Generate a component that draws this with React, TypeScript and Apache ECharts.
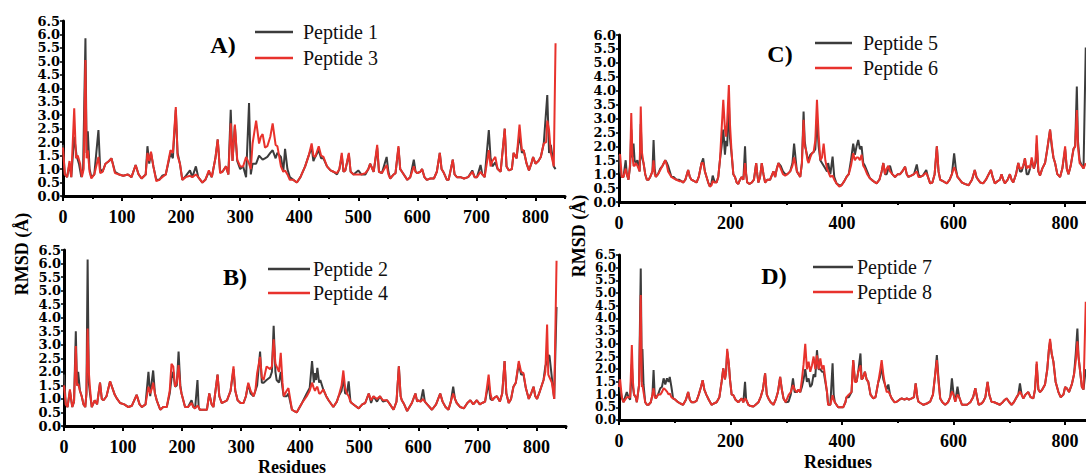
import React, { useEffect, useRef } from "react";
import * as echarts from "echarts";

type P = [number, number];

const xLabelsLeft = [0, 100, 200, 300, 400, 500, 600, 700, 800];
const xMinorLeft = [50, 150, 250, 350, 450, 550, 650, 750, 850];
const xLabelsRight = [0, 200, 400, 600, 800];
const xMinorRight = [100, 300, 500, 700];

const panelTitles = ["A)", "B)", "C)", "D)"];
const legendNames = [
  ["Peptide 1", "Peptide 3"],
  ["Peptide 2", "Peptide 4"],
  ["Peptide 5", "Peptide 6"],
  ["Peptide 7", "Peptide 8"],
];
const yMaxes = [6.5, 6.5, 6.0, 6.5];

// Panel A
const pep1: P[] = [[0,1.9],[3,0.8],[7,0.7],[11,1.2],[14,0.7],[19,2.2],[23,1.5],[27,1.2],[31,0.7],[34,1.0],[38,5.86],[40,1.6],[42,2.4],[45,1.0],[48,0.7],[53,0.8],[60,2.45],[63,1.0],[67,0.9],[72,1.2],[78,1.3],[82,1.4],[88,0.9],[95,0.8],[102,0.75],[110,0.8],[116,0.7],[123,1.15],[128,0.8],[133,0.65],[140,0.8],[143,1.85],[146,1.2],[149,1.6],[153,1.1],[158,0.6],[163,0.6],[168,0.75],[174,0.8],[182,1.6],[186,1.4],[191,3.2],[194,1.6],[198,1.2],[202,0.6],[208,0.75],[215,0.95],[219,0.7],[225,1.1],[229,0.7],[236,0.5],[241,0.6],[247,0.9],[252,0.7],[258,1.4],[262,2.1],[266,0.9],[270,0.9],[276,1.1],[280,0.8],[284,3.2],[287,1.3],[291,2.6],[295,1.3],[300,1.0],[305,1.1],[310,0.7],[315,3.45],[318,0.8],[321,1.2],[327,1.2],[332,1.5],[338,1.35],[342,1.4],[346,1.45],[351,1.6],[355,1.7],[360,1.4],[363,1.6],[369,1.45],[373,0.9],[376,1.75],[380,1.0],[384,0.7],[390,0.6],[396,0.5],[402,0.7],[410,1.1],[416,1.5],[421,1.8],[424,1.3],[427,1.45],[433,1.7],[437,1.4],[441,1.4],[447,1.1],[453,0.95],[458,0.9],[464,0.8],[468,1.0],[472,1.5],[475,0.9],[478,0.95],[484,1.55],[487,0.9],[492,0.8],[500,0.95],[505,0.8],[512,0.8],[517,1.0],[520,1.2],[526,0.9],[532,1.8],[535,0.9],[540,0.85],[548,1.45],[551,0.9],[554,0.65],[560,0.8],[563,0.85],[568,1.8],[571,1.0],[574,0.9],[583,0.6],[588,0.7],[594,1.35],[597,0.9],[600,0.85],[605,0.9],[608,1.0],[612,0.7],[616,0.6],[622,0.65],[628,0.65],[633,0.9],[638,1.6],[641,1.0],[645,0.85],[650,0.6],[653,0.6],[660,1.35],[663,0.8],[667,0.7],[673,0.7],[679,0.65],[686,0.7],[693,0.95],[697,0.7],[701,0.7],[707,1.15],[710,0.8],[714,0.7],[721,2.45],[724,1.4],[727,1.1],[732,1.25],[736,1.0],[741,0.9],[748,2.5],[751,1.1],[755,0.95],[760,1.0],[763,1.6],[768,1.4],[773,2.3],[777,1.6],[780,1.7],[785,1.2],[789,0.95],[793,1.2],[796,1.45],[800,1.2],[805,1.3],[809,1.45],[814,1.95],[820,3.75],[823,1.6],[826,1.9],[831,1.1],[834,1.0]];
const pep3: P[] = [[0,1.8],[3,0.8],[7,0.7],[11,1.3],[14,0.7],[19,3.26],[22,1.4],[25,1.5],[29,1.2],[32,0.7],[35,1.0],[38,5.05],[40,1.4],[42,1.7],[45,0.9],[48,0.65],[53,0.8],[60,1.45],[63,0.85],[67,0.9],[72,1.2],[78,1.3],[82,1.4],[88,0.85],[95,0.8],[102,0.75],[110,0.8],[116,0.7],[123,1.15],[128,0.8],[133,0.65],[140,0.8],[143,1.6],[146,1.3],[149,1.65],[153,1.1],[158,0.55],[163,0.6],[168,0.7],[174,0.8],[182,1.7],[186,1.6],[191,3.3],[194,1.5],[198,1.2],[202,0.6],[208,0.7],[215,0.75],[219,0.7],[225,0.8],[229,0.7],[236,0.5],[241,0.6],[247,0.95],[252,0.7],[258,1.4],[262,2.1],[266,0.85],[270,0.9],[276,1.1],[280,0.8],[284,2.7],[287,1.3],[291,2.65],[295,1.35],[300,1.1],[305,1.1],[310,1.45],[315,1.2],[318,1.0],[321,1.95],[327,2.8],[332,1.95],[335,2.2],[338,2.3],[342,1.8],[346,1.85],[351,2.2],[355,2.7],[360,1.9],[363,1.85],[369,1.1],[373,0.9],[376,0.95],[380,0.8],[384,0.6],[390,0.6],[396,0.5],[402,0.7],[410,1.1],[416,1.5],[421,1.95],[424,1.5],[427,1.45],[433,1.85],[437,1.5],[441,1.45],[447,1.1],[453,0.95],[458,0.9],[464,0.85],[468,1.0],[472,1.6],[475,0.9],[478,0.95],[484,1.6],[487,0.9],[492,0.8],[500,0.8],[505,0.8],[512,0.85],[517,1.0],[520,1.2],[526,0.9],[532,1.9],[535,0.9],[540,0.85],[548,1.15],[551,0.8],[554,0.65],[560,0.8],[563,0.85],[568,1.85],[571,1.0],[574,0.9],[583,0.6],[588,0.7],[594,1.1],[597,0.9],[600,0.85],[605,0.9],[608,1.0],[612,0.7],[616,0.6],[622,0.65],[628,0.65],[633,0.9],[638,1.6],[641,1.0],[645,0.85],[650,0.6],[653,0.6],[660,1.35],[663,0.8],[667,0.7],[673,0.7],[679,0.65],[686,0.7],[693,0.9],[697,0.7],[701,0.7],[707,0.9],[710,0.8],[714,0.7],[721,1.7],[724,1.1],[727,1.3],[732,1.45],[736,1.0],[741,0.9],[748,2.5],[751,1.1],[755,0.95],[760,1.0],[763,1.6],[768,1.4],[773,2.65],[777,1.7],[780,1.7],[785,1.2],[789,0.95],[793,1.2],[796,1.45],[800,1.2],[805,1.3],[809,1.45],[814,1.95],[818,2.0],[820,2.8],[823,2.45],[826,1.6],[831,1.1],[834,5.67]];

// Panel B
const pep2: P[] = [[0,1.9],[3,0.8],[6,0.7],[10,1.3],[14,0.7],[17,0.9],[20,3.5],[22,1.5],[24,2.0],[27,1.3],[30,1.1],[33,0.8],[36,0.7],[38,1.2],[40,6.15],[42,1.6],[44,1.2],[47,0.7],[52,0.95],[56,0.8],[61,1.6],[64,1.0],[67,0.95],[72,1.1],[78,1.65],[82,1.4],[86,1.15],[90,1.0],[95,0.85],[102,0.8],[109,0.7],[115,0.75],[123,1.15],[128,0.8],[132,0.7],[138,0.8],[143,2.0],[146,1.1],[149,1.7],[151,2.05],[154,1.2],[157,0.95],[163,0.6],[168,0.7],[174,0.7],[179,1.2],[182,1.75],[185,2.0],[188,1.45],[191,1.5],[194,2.75],[197,1.5],[199,1.2],[205,0.7],[210,0.7],[216,0.95],[219,0.7],[222,0.65],[226,1.7],[228,0.7],[230,0.6],[236,0.6],[242,0.6],[246,1.2],[250,0.8],[253,0.7],[260,1.9],[263,1.1],[267,0.85],[272,0.9],[276,0.95],[282,1.3],[287,2.1],[290,1.3],[294,0.95],[299,0.85],[304,0.85],[308,1.1],[312,1.55],[316,1.2],[321,1.1],[324,1.3],[327,1.5],[332,2.75],[335,1.6],[338,1.6],[343,1.7],[349,1.8],[352,2.0],[355,3.7],[358,2.0],[360,1.7],[364,1.6],[367,2.0],[370,1.4],[372,1.1],[377,1.1],[380,1.2],[386,0.6],[390,0.55],[394,0.5],[403,0.85],[411,1.2],[416,1.4],[420,2.4],[423,1.6],[425,1.95],[427,1.7],[429,2.15],[432,1.6],[434,1.7],[439,1.35],[444,1.1],[448,0.95],[456,0.7],[462,0.9],[465,1.1],[470,1.3],[473,1.8],[476,1.2],[479,1.2],[482,1.65],[485,0.9],[487,0.85],[493,0.75],[499,0.65],[505,0.8],[510,0.85],[516,1.2],[520,0.85],[524,1.1],[530,0.9],[535,1.1],[540,0.9],[547,0.95],[552,0.8],[558,0.6],[563,0.9],[567,2.2],[570,1.1],[572,0.95],[576,0.8],[581,0.55],[585,0.7],[589,0.85],[595,1.2],[598,0.9],[600,0.95],[604,0.9],[608,1.35],[611,0.9],[615,0.8],[623,0.6],[630,0.8],[637,1.2],[641,0.9],[646,0.7],[651,0.6],[655,0.9],[659,1.45],[662,1.0],[665,0.85],[671,0.7],[677,0.65],[683,0.85],[688,0.95],[693,0.8],[699,0.95],[704,0.8],[708,0.85],[713,0.9],[719,1.6],[722,1.0],[725,0.95],[729,1.05],[733,1.1],[738,0.9],[742,1.2],[746,2.4],[749,1.2],[753,0.85],[757,1.0],[761,1.45],[765,1.6],[770,2.3],[774,1.9],[778,1.9],[782,1.4],[787,1.0],[791,1.2],[795,1.45],[798,1.1],[801,1.0],[806,1.3],[812,1.7],[815,2.2],[818,2.4],[820,2.6],[822,2.6],[826,1.8],[830,1.0],[834,4.4]];
const pep4: P[] = [[0,1.5],[3,0.8],[6,0.7],[10,1.35],[14,0.7],[17,0.9],[20,2.95],[22,1.5],[24,1.55],[27,1.3],[30,1.1],[33,0.8],[36,0.7],[38,1.2],[40,3.6],[42,2.0],[44,1.4],[47,0.7],[52,0.95],[56,0.8],[61,1.6],[64,1.0],[67,0.95],[72,1.1],[78,1.65],[82,1.4],[86,1.15],[90,1.0],[95,0.85],[102,0.8],[109,0.7],[115,0.75],[123,1.15],[128,0.8],[132,0.7],[138,0.8],[143,1.45],[146,1.2],[149,1.4],[151,1.6],[154,1.2],[157,0.95],[163,0.6],[168,0.7],[174,0.7],[179,1.3],[182,2.3],[185,2.2],[188,1.45],[191,1.6],[194,2.25],[197,1.4],[199,1.2],[205,0.7],[210,0.7],[216,0.85],[219,0.7],[222,0.65],[226,0.75],[228,0.7],[230,0.6],[236,0.6],[242,0.6],[246,1.2],[250,0.8],[253,0.7],[260,1.9],[263,1.1],[267,0.85],[272,0.9],[276,0.95],[282,1.3],[287,2.2],[290,1.3],[294,0.95],[299,0.85],[304,0.85],[308,1.1],[312,1.6],[316,1.3],[321,1.1],[324,1.3],[327,1.95],[332,2.55],[335,1.8],[338,1.7],[343,2.2],[349,2.1],[352,2.2],[355,3.2],[358,2.3],[360,2.2],[364,2.0],[367,2.7],[370,1.6],[372,1.1],[377,1.3],[380,1.4],[386,0.6],[390,0.55],[394,0.5],[403,0.85],[411,1.1],[416,1.3],[420,1.6],[423,1.4],[425,1.3],[427,1.4],[429,1.45],[432,1.2],[434,1.2],[439,1.35],[444,1.1],[448,0.95],[456,0.7],[462,0.9],[465,1.1],[470,1.5],[473,2.05],[476,1.4],[479,1.2],[482,1.1],[485,0.9],[487,0.85],[493,0.75],[499,0.65],[505,0.8],[510,0.85],[516,1.2],[520,0.95],[524,1.1],[530,1.0],[535,1.1],[540,0.95],[547,0.95],[552,0.8],[558,0.6],[563,0.9],[567,2.2],[570,1.1],[572,0.95],[576,0.8],[581,0.55],[585,0.7],[589,0.85],[595,1.2],[598,0.9],[600,0.95],[604,0.9],[608,1.0],[611,0.9],[615,0.8],[623,0.6],[630,0.8],[637,1.2],[641,0.9],[646,0.7],[651,0.6],[655,0.9],[659,1.2],[662,1.0],[665,0.85],[671,0.7],[677,0.65],[683,0.85],[688,0.95],[693,0.8],[699,0.95],[704,0.8],[708,0.85],[713,0.9],[719,1.9],[722,1.2],[725,0.95],[729,1.05],[733,1.1],[738,0.9],[742,1.2],[746,2.4],[749,1.2],[753,0.85],[757,1.0],[761,1.45],[765,1.6],[770,2.4],[774,2.0],[778,1.95],[782,1.4],[787,1.0],[791,1.2],[795,1.45],[798,1.1],[801,1.0],[806,1.3],[812,1.7],[815,2.0],[818,3.75],[820,1.9],[822,1.8],[826,1.6],[830,1.0],[834,6.1]];

// Panel C
const pep5: P[] = [[0,1.7],[2,1.1],[5,0.9],[8,0.9],[12,1.5],[14,1.0],[17,0.8],[20,1.3],[22,2.6],[24,1.6],[26,2.1],[28,1.5],[30,1.4],[33,1.5],[35,1.3],[37,1.1],[39,2.8],[41,1.6],[44,1.4],[47,1.0],[50,0.8],[53,0.8],[56,0.9],[60,1.1],[62,2.23],[64,1.2],[66,0.9],[70,1.0],[74,1.2],[78,1.3],[83,1.5],[86,1.4],[88,1.3],[91,1.1],[94,0.9],[98,0.9],[103,0.8],[108,0.8],[112,0.75],[115,0.7],[119,0.8],[124,1.15],[127,0.9],[130,0.8],[135,0.75],[139,0.7],[143,0.9],[148,1.4],[151,1.57],[154,1.1],[157,0.9],[160,0.7],[163,0.55],[166,0.7],[168,0.95],[171,0.75],[175,0.7],[178,0.9],[181,1.5],[184,2.0],[187,2.6],[190,1.7],[192,2.2],[194,2.0],[197,3.6],[199,2.3],[202,1.7],[205,1.0],[208,0.9],[211,0.7],[214,0.65],[217,0.8],[220,0.9],[223,0.8],[226,2.0],[228,1.0],[230,0.7],[234,0.65],[238,0.7],[242,0.8],[246,1.4],[248,1.0],[250,0.7],[253,0.9],[256,1.4],[259,1.0],[262,0.7],[266,0.8],[271,0.8],[275,1.0],[277,1.1],[280,0.9],[283,1.2],[286,1.4],[290,1.3],[294,1.1],[298,1.0],[302,1.0],[307,1.1],[311,1.4],[314,2.1],[317,1.5],[319,1.1],[322,1.0],[325,0.9],[328,1.4],[331,3.25],[333,2.2],[335,1.9],[338,1.6],[340,1.5],[343,1.7],[346,1.75],[349,1.8],[352,1.9],[355,3.0],[358,2.0],[361,1.5],[364,1.4],[367,1.3],[370,1.2],[373,1.1],[375,1.4],[379,1.0],[383,1.63],[386,0.9],[390,0.67],[395,0.6],[399,0.6],[404,0.75],[408,0.9],[412,1.0],[416,1.5],[420,2.1],[423,1.7],[426,2.0],[429,2.23],[432,1.9],[435,2.0],[438,1.4],[441,1.3],[445,1.1],[450,0.85],[456,0.75],[462,0.67],[467,0.8],[471,1.1],[474,1.4],[477,1.0],[480,1.0],[483,1.2],[486,1.3],[490,1.0],[495,0.9],[500,1.0],[504,1.0],[508,1.1],[513,1.27],[516,1.0],[519,0.9],[524,0.95],[529,1.0],[534,1.35],[537,1.0],[540,0.9],[545,0.95],[551,1.15],[554,0.9],[558,0.67],[562,0.7],[566,1.0],[570,2.0],[573,1.1],[576,0.8],[581,0.75],[585,0.7],[588,0.67],[593,0.8],[597,1.0],[601,1.75],[604,1.2],[607,0.9],[611,0.8],[615,0.7],[620,0.65],[627,0.6],[633,0.8],[638,1.15],[641,0.9],[644,0.8],[648,0.7],[653,0.67],[658,0.8],[663,1.0],[667,1.15],[670,0.9],[674,0.67],[679,0.75],[683,0.8],[686,1.0],[689,0.8],[692,0.67],[697,0.8],[701,1.0],[704,0.8],[707,0.7],[712,1.0],[716,1.4],[719,1.1],[722,1.1],[725,1.3],[728,1.57],[731,1.0],[734,1.0],[737,1.2],[740,1.5],[744,1.2],[747,1.4],[749,2.1],[752,1.1],[755,0.95],[759,1.2],[764,1.4],[768,1.9],[773,2.6],[776,2.0],[779,1.6],[782,1.4],[786,1.0],[791,0.9],[795,1.2],[800,1.9],[803,1.2],[806,1.0],[810,1.3],[815,1.9],[818,2.0],[821,4.15],[823,2.2],[826,1.5],[830,1.3],[833,1.2],[837,5.55]];
const pep6: P[] = [[0,1.7],[2,1.7],[5,0.9],[8,0.9],[12,1.2],[14,1.0],[17,0.8],[20,1.4],[22,3.2],[24,1.7],[26,1.3],[28,1.3],[30,1.4],[33,1.3],[35,1.2],[37,1.1],[39,3.43],[41,1.8],[44,1.4],[47,1.0],[50,0.8],[53,0.8],[56,0.9],[60,1.1],[62,1.5],[64,1.0],[66,0.9],[70,1.0],[74,1.15],[78,1.3],[83,1.5],[86,1.3],[88,1.1],[91,1.0],[94,0.9],[98,0.85],[103,0.8],[108,0.75],[112,0.75],[115,0.7],[119,0.8],[124,1.15],[127,0.9],[130,0.8],[135,0.75],[139,0.7],[143,0.9],[148,1.4],[151,1.4],[154,1.1],[157,0.9],[160,0.7],[163,0.55],[166,0.6],[168,0.75],[171,0.7],[175,0.7],[178,0.9],[181,1.5],[184,2.6],[187,3.67],[190,2.6],[192,2.35],[194,2.9],[197,4.2],[199,2.8],[202,1.75],[205,1.0],[208,0.9],[211,0.7],[214,0.65],[217,0.8],[220,0.9],[223,0.8],[226,1.4],[228,1.0],[230,0.7],[234,0.65],[238,0.7],[242,0.8],[246,1.4],[248,1.0],[250,0.7],[253,0.9],[256,1.4],[259,1.0],[262,0.7],[266,0.8],[271,0.8],[275,1.0],[277,1.1],[280,0.9],[283,1.2],[286,1.4],[290,1.2],[294,1.0],[298,0.95],[302,1.0],[307,1.1],[311,1.3],[314,1.6],[317,1.3],[319,1.1],[322,1.0],[325,0.9],[328,1.4],[331,2.95],[333,2.0],[335,1.9],[338,1.5],[340,1.4],[343,1.6],[346,1.75],[349,1.8],[352,2.2],[355,3.67],[358,2.4],[361,1.5],[364,1.6],[367,2.1],[370,1.5],[373,1.2],[375,1.1],[379,0.9],[383,0.95],[386,0.8],[390,0.67],[395,0.55],[399,0.6],[404,0.75],[408,0.9],[412,1.0],[416,1.3],[420,1.75],[423,1.5],[426,1.6],[429,1.6],[432,1.5],[435,1.7],[438,1.3],[441,1.2],[445,1.0],[450,0.85],[456,0.75],[462,0.67],[467,0.8],[471,1.1],[474,1.4],[477,1.0],[480,1.2],[483,1.3],[486,1.1],[490,1.0],[495,0.9],[500,1.0],[504,1.0],[508,1.1],[513,1.27],[516,1.0],[519,0.9],[524,0.95],[529,1.0],[534,1.1],[537,0.9],[540,0.9],[545,0.95],[551,1.05],[554,0.9],[558,0.67],[562,0.7],[566,1.0],[570,2.0],[573,1.1],[576,0.8],[581,0.75],[585,0.7],[588,0.67],[593,0.8],[597,1.0],[601,1.25],[604,1.1],[607,0.9],[611,0.8],[615,0.7],[620,0.65],[627,0.6],[633,0.8],[638,1.15],[641,0.9],[644,0.8],[648,0.7],[653,0.67],[658,0.8],[663,1.0],[667,1.15],[670,0.9],[674,0.67],[679,0.75],[683,0.8],[686,1.0],[689,0.8],[692,0.67],[697,0.8],[701,1.0],[704,0.8],[707,0.7],[712,1.0],[716,1.4],[719,1.2],[722,1.2],[725,1.3],[728,1.57],[731,1.2],[734,1.3],[737,1.2],[740,1.6],[744,1.2],[747,1.5],[749,2.4],[752,1.1],[755,0.95],[759,1.2],[764,1.4],[768,1.9],[773,2.6],[776,2.1],[779,1.6],[782,1.4],[786,1.0],[791,0.9],[795,1.2],[800,2.0],[803,1.2],[806,1.0],[810,1.3],[815,1.9],[818,2.0],[821,3.3],[823,2.0],[826,1.4],[830,1.3],[833,1.2],[837,1.4]];

// Panel D
const pep7: P[] = [[0,1.6],[2,1.25],[5,0.9],[8,0.7],[11,0.9],[14,1.1],[17,0.9],[20,0.8],[23,2.2],[25,1.3],[27,1.0],[30,0.9],[32,0.7],[36,1.38],[39,5.97],[41,1.5],[42,2.8],[44,1.4],[47,0.7],[50,0.6],[53,0.6],[57,0.7],[60,1.0],[62,1.97],[64,1.0],[66,0.85],[70,1.0],[74,1.25],[77,1.3],[80,1.64],[83,1.4],[86,1.64],[89,1.5],[91,1.7],[94,1.3],[97,0.85],[101,0.8],[106,0.7],[110,0.65],[115,0.6],[120,0.8],[124,1.1],[127,0.8],[130,0.7],[135,0.7],[139,0.75],[143,1.0],[147,1.3],[150,1.57],[153,1.2],[157,0.98],[161,0.8],[166,0.6],[170,0.65],[175,0.7],[180,0.9],[184,1.5],[187,2.03],[190,1.6],[192,1.9],[194,2.7],[197,2.2],[199,1.6],[202,1.0],[205,0.98],[209,0.8],[214,0.7],[218,0.8],[220,0.85],[223,0.7],[226,1.5],[228,0.8],[232,0.6],[236,0.55],[241,0.53],[245,0.6],[250,0.7],[254,0.9],[258,1.2],[262,1.84],[265,1.0],[268,0.85],[272,0.7],[277,0.6],[281,0.8],[285,1.1],[289,1.7],[292,1.2],[295,0.85],[299,0.7],[304,0.72],[308,1.0],[312,1.64],[315,1.1],[319,1.1],[322,1.2],[325,1.1],[328,1.3],[331,1.6],[334,2.0],[337,1.5],[340,1.64],[343,1.3],[346,1.4],[349,1.8],[352,1.7],[355,2.75],[358,2.0],[361,2.0],[364,1.9],[367,1.9],[370,1.5],[373,1.1],[375,0.6],[379,0.6],[383,2.23],[385,1.0],[387,0.7],[393,0.5],[398,0.5],[402,0.5],[406,0.7],[408,0.9],[412,0.9],[417,1.1],[420,2.36],[423,1.6],[426,1.5],[429,1.9],[433,2.62],[435,1.6],[437,1.64],[441,1.9],[444,1.6],[447,1.5],[451,1.0],[456,0.85],[460,0.9],[465,1.5],[468,1.7],[471,2.1],[474,1.6],[477,1.4],[480,1.2],[483,1.4],[486,1.0],[489,0.85],[494,0.7],[498,0.72],[503,0.8],[507,0.85],[512,0.8],[516,0.85],[520,0.8],[525,0.85],[529,0.9],[532,1.44],[535,0.9],[537,0.72],[542,0.65],[546,0.6],[552,0.65],[558,0.72],[563,1.0],[567,1.8],[570,2.56],[573,1.6],[576,0.85],[580,0.7],[585,0.6],[590,0.7],[594,0.9],[597,1.64],[600,1.0],[603,0.72],[607,1.31],[610,0.9],[615,0.6],[620,0.6],[624,0.6],[630,0.7],[635,0.9],[639,1.25],[642,0.9],[645,0.6],[650,0.65],[653,0.72],[657,0.9],[661,1.5],[664,1.0],[668,0.72],[673,0.7],[678,0.65],[683,0.6],[688,0.7],[692,0.8],[695,0.85],[700,0.7],[704,0.6],[708,0.7],[713,0.9],[716,1.0],[719,1.44],[722,1.0],[725,0.85],[729,1.0],[734,1.1],[738,0.9],[743,0.85],[746,1.2],[749,2.2],[752,1.2],[755,1.1],[759,1.2],[764,1.4],[768,2.0],[771,2.8],[773,3.1],[776,2.6],[779,2.3],[783,1.5],[788,1.1],[792,0.9],[797,1.0],[800,1.3],[803,1.25],[807,1.1],[812,1.4],[816,1.8],[819,2.6],[822,3.6],[824,2.5],[827,1.9],[830,1.3],[833,1.2],[837,2.0]];
const pep8: P[] = [[0,1.3],[2,1.6],[5,0.9],[8,0.7],[11,0.8],[14,0.9],[17,0.9],[20,0.9],[23,2.95],[25,1.5],[27,1.0],[30,0.9],[32,0.7],[36,1.38],[39,4.92],[41,1.3],[42,1.38],[44,1.1],[47,0.7],[50,0.6],[53,0.6],[57,0.7],[60,1.0],[62,1.25],[64,0.9],[66,0.85],[70,1.0],[74,1.0],[77,1.1],[80,1.25],[83,1.2],[86,1.12],[89,1.0],[91,1.05],[94,0.9],[97,0.85],[101,0.8],[106,0.7],[110,0.65],[115,0.6],[120,0.8],[124,1.1],[127,0.8],[130,0.7],[135,0.7],[139,0.75],[143,1.0],[147,1.3],[150,1.57],[153,1.2],[157,0.98],[161,0.8],[166,0.6],[170,0.65],[175,0.7],[180,0.9],[184,1.5],[187,2.03],[190,1.6],[192,1.9],[194,2.8],[197,2.2],[199,1.6],[202,1.0],[205,0.98],[209,0.8],[214,0.7],[218,0.8],[220,0.85],[223,0.7],[226,0.85],[228,0.8],[232,0.6],[236,0.55],[241,0.53],[245,0.6],[250,0.7],[254,0.9],[258,1.2],[262,1.84],[265,1.0],[268,0.85],[272,0.7],[277,0.6],[281,0.8],[285,1.1],[289,1.7],[292,1.2],[295,0.85],[299,0.7],[304,0.98],[308,1.1],[312,1.38],[315,1.2],[319,1.1],[322,1.2],[325,1.1],[328,1.6],[331,2.2],[334,3.0],[337,2.0],[340,2.3],[343,1.9],[346,2.15],[349,2.5],[352,2.0],[355,2.55],[358,2.0],[361,2.43],[364,2.0],[367,2.15],[370,1.6],[373,1.1],[375,0.6],[379,0.6],[383,0.98],[385,0.8],[387,0.7],[393,0.5],[398,0.5],[402,0.5],[406,0.7],[408,0.9],[412,1.0],[417,1.1],[420,2.36],[423,1.5],[426,1.5],[429,1.9],[433,2.15],[435,1.6],[437,1.64],[441,1.9],[444,1.6],[447,1.5],[451,1.0],[456,0.85],[460,0.9],[465,1.5],[468,1.9],[471,2.36],[474,1.8],[477,1.38],[480,1.1],[483,1.12],[486,1.0],[489,0.85],[494,0.7],[498,0.72],[503,0.8],[507,0.85],[512,0.8],[516,0.85],[520,0.8],[525,0.85],[529,0.9],[532,1.44],[535,0.9],[537,0.72],[542,0.65],[546,0.6],[552,0.65],[558,0.72],[563,1.0],[567,1.8],[570,2.36],[573,1.5],[576,0.85],[580,0.7],[585,0.6],[590,0.7],[594,0.9],[597,1.12],[600,1.0],[603,0.72],[607,1.0],[610,0.9],[615,0.6],[620,0.6],[624,0.6],[630,0.7],[635,0.9],[639,1.25],[642,0.9],[645,0.6],[650,0.65],[653,0.72],[657,0.9],[661,1.5],[664,1.0],[668,0.72],[673,0.7],[678,0.65],[683,0.6],[688,0.7],[692,0.8],[695,0.85],[700,0.7],[704,0.6],[708,0.7],[713,0.9],[716,1.0],[719,1.12],[722,1.0],[725,0.85],[729,1.0],[734,1.1],[738,0.9],[743,0.85],[746,1.2],[749,2.3],[752,1.2],[755,1.1],[759,1.2],[764,1.4],[768,2.0],[771,2.8],[773,3.2],[776,2.6],[779,2.3],[783,1.5],[788,1.1],[792,0.9],[797,1.0],[800,1.3],[803,1.25],[807,1.1],[812,1.4],[816,1.8],[819,2.3],[822,3.1],[824,2.5],[827,1.9],[830,1.3],[833,1.2],[837,4.66]];

const seriesData: [P[], P[]][] = [[pep1, pep3], [pep2, pep4], [pep5, pep6], [pep7, pep8]];

const DARK = "#3c3c3c";
const RED = "#e8322c";
const SERIF = "'Liberation Serif', 'Times New Roman', serif";
const WIDE_SERIF = "'DejaVu Serif', serif";

// layout (px)
const grids = [
  { left: 63, top: 21, width: 502, height: 175 },
  { left: 64, top: 250, width: 502, height: 176 },
  { left: 619, top: 35, width: 474, height: 167 },
  { left: 619, top: 255, width: 474, height: 165 },
];
const yLabelFontSizes = [13, 13, 13, 12];
const titlePos = [[223, 45], [235, 277], [780, 54], [774, 276]];
const legendPos = [
  { x1: 255, x2: 293, tx: 303, y: [32, 58] },
  { x1: 268, x2: 310, tx: 313, y: [269, 293] },
  { x1: 815, x2: 852, tx: 863, y: [43, 68] },
  { x1: 813, x2: 853, tx: 857, y: [267, 292] },
];

export default function App() {
  const ref = useRef<HTMLDivElement>(null);
  useEffect(() => {
    document.body.style.margin = "0";
    if (!ref.current) return;
    const chart = echarts.init(ref.current, null, { renderer: "svg" });

    const xAxes: any[] = [];
    const yAxes: any[] = [];
    const series: any[] = [];
    const graphic: any[] = [];

    grids.forEach((g, i) => {
      const left = i < 2;
      const labels = left ? xLabelsLeft : xLabelsRight;
      const minor = left ? xMinorLeft : xMinorRight;
      xAxes.push({
        type: "value",
        gridIndex: i,
        position: "bottom",
        min: 0,
        max: 850,
        interval: left ? 50 : 100,
        axisLine: { show: true, lineStyle: { color: "#000", width: 3 } },
        axisTick: { show: true, customValues: labels, length: 5, lineStyle: { color: "#000", width: 2 } },
        axisLabel: {
          customValues: labels,
          margin: 12,
          color: "#000",
          fontFamily: SERIF,
          fontWeight: "bold",
          fontSize: 18,
        },
        splitLine: { show: false },
      });
      xAxes.push({
        type: "value",
        gridIndex: i,
        position: "bottom",
        min: 0,
        max: 850,
        interval: left ? 50 : 100,
        axisLine: { show: false },
        axisTick: { show: true, customValues: minor, length: 3, lineStyle: { color: "#000", width: 2 } },
        axisLabel: { show: false },
        splitLine: { show: false },
      });
      const fs = yLabelFontSizes[i];
      yAxes.push({
        type: "value",
        gridIndex: i,
        min: 0,
        max: yMaxes[i],
        interval: 0.5,
        axisLine: { show: true, lineStyle: { color: "#000", width: 3 } },
        axisTick: { show: true, length: 3, lineStyle: { color: "#000", width: 1.5 } },
        axisLabel: {
          margin: 3,
          color: "#000",
          fontFamily: WIDE_SERIF,
          fontWeight: "bold",
          fontSize: fs,
          lineHeight: fs,
          showMinLabel: true,
          showMaxLabel: true,
          hideOverlap: false,
          formatter: (v: number) => v.toFixed(1),
        },
        splitLine: { show: false },
      });
      const [dark, red] = seriesData[i];
      const names = legendNames[i];
      series.push({
        name: names[0],
        type: "line",
        xAxisIndex: i * 2,
        yAxisIndex: i,
        data: dark,
        showSymbol: false,
        lineStyle: { color: DARK, width: 2 },
        itemStyle: { color: DARK },
      });
      series.push({
        name: names[1],
        type: "line",
        xAxisIndex: i * 2,
        yAxisIndex: i,
        data: red,
        showSymbol: false,
        lineStyle: { color: RED, width: 2 },
        itemStyle: { color: RED },
      });

      graphic.push({
        type: "text",
        x: titlePos[i][0],
        y: titlePos[i][1],
        style: {
          text: panelTitles[i],
          fill: "#000",
          font: `bold 24px ${SERIF}`,
          textAlign: "center",
          textVerticalAlign: "middle",
        },
      });
      const lp = legendPos[i];
      [DARK, RED].forEach((c, k) => {
        graphic.push({
          type: "line",
          shape: { x1: lp.x1, y1: lp.y[k], x2: lp.x2, y2: lp.y[k] },
          style: { stroke: c, lineWidth: 2.5 },
        });
        graphic.push({
          type: "text",
          x: lp.tx,
          y: lp.y[k],
          style: {
            text: names[k],
            fill: "#111",
            font: `20px ${SERIF}`,
            textAlign: "left",
            textVerticalAlign: "middle",
          },
        });
      });
    });

    graphic.push(
      {
        type: "text",
        x: 22,
        y: 254,
        rotation: Math.PI / 2,
        style: { text: "RMSD (Å)", fill: "#000", font: `bold 18px ${SERIF}`, textAlign: "center", textVerticalAlign: "middle" },
      },
      {
        type: "text",
        x: 579,
        y: 236,
        rotation: Math.PI / 2,
        style: { text: "RMSD (Å)", fill: "#000", font: `bold 18px ${SERIF}`, textAlign: "center", textVerticalAlign: "middle" },
      },
      {
        type: "text",
        x: 292,
        y: 467,
        style: { text: "Residues", fill: "#000", font: `bold 18px ${SERIF}`, textAlign: "center", textVerticalAlign: "middle" },
      },
      {
        type: "text",
        x: 838,
        y: 462,
        style: { text: "Residues", fill: "#000", font: `bold 18px ${SERIF}`, textAlign: "center", textVerticalAlign: "middle" },
      }
    );

    chart.setOption({
      animation: false,
      backgroundColor: "#fff",
      grid: grids.map((g) => ({ ...g, containLabel: false, outerBoundsMode: "none" })),
      xAxis: xAxes,
      yAxis: yAxes,
      series,
      graphic,
    });
    return () => chart.dispose();
  }, []);
  return <div ref={ref} style={{ width: 1086, height: 476 }} />;
}
